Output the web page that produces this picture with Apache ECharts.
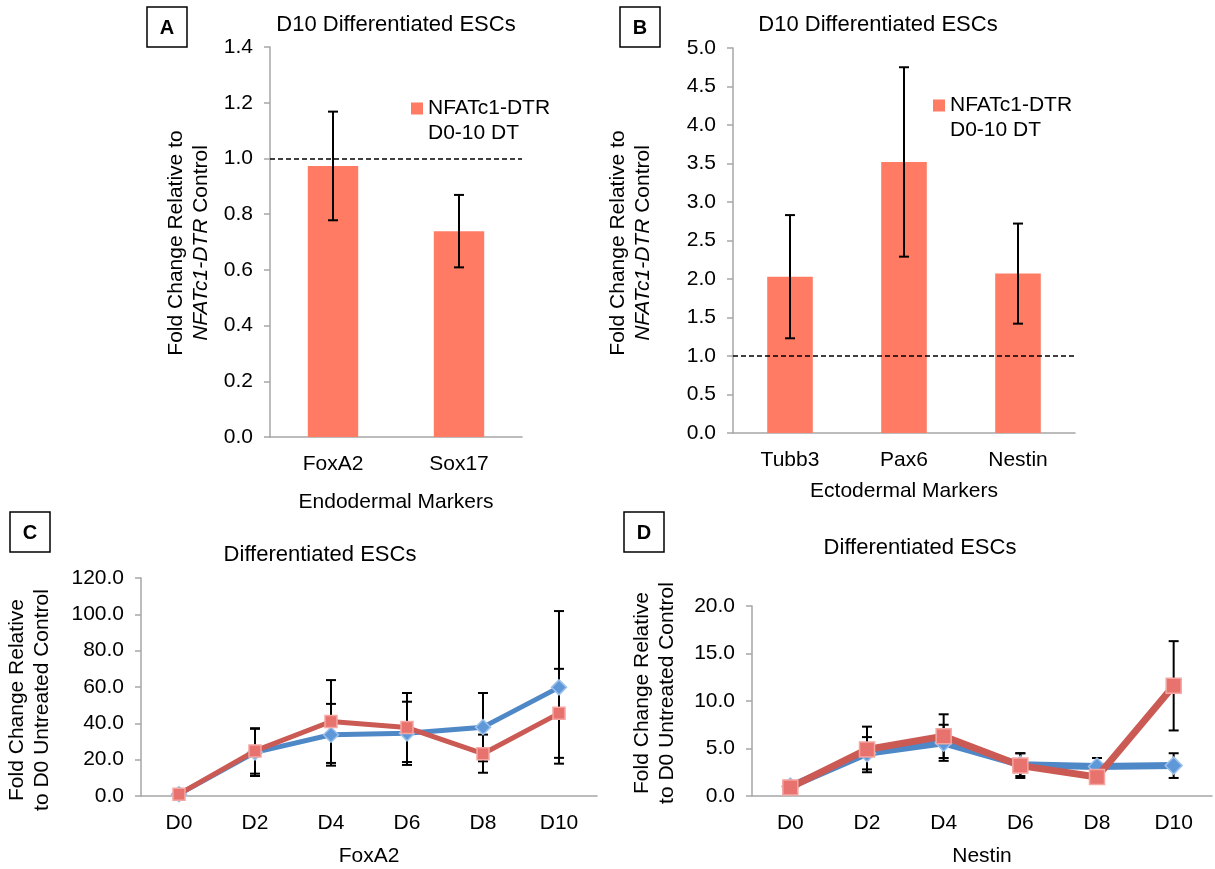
<!DOCTYPE html>
<html><head><meta charset="utf-8">
<script src="https://cdn.jsdelivr.net/npm/echarts@6/dist/echarts.min.js"></script>
<style>html,body{margin:0;padding:0;background:#fff}#c{width:1215px;height:869px}</style>
</head><body><div id="c"></div>
<script>
// ---- data ----
const endoCats = ['FoxA2', 'Sox17'];
const endoVals = [0.973, 0.739];
const endoErr = [0.195, 0.13];
const ectoCats = ['Tubb3', 'Pax6', 'Nestin'];
const ectoVals = [2.03, 3.52, 2.07];
const ectoErr = [0.80, 1.23, 0.65];
const days = ['D0', 'D2', 'D4', 'D6', 'D8', 'D10'];
const foxa2Blue = [1.0, 24.0, 33.7, 34.5, 37.9, 59.8];
const foxa2BlueErr = [0.3, 13.0, 17.0, 17.4, 18.8, 42.0];
const foxa2Red = [1.0, 24.8, 41.0, 37.7, 23.3, 45.5];
const foxa2RedErr = [0.3, 12.5, 22.8, 19.0, 10.5, 24.5];
const nestinBlue = [1.0, 4.5, 5.6, 3.3, 3.1, 3.2];
const nestinBlueErr = [0.1, 1.7, 1.9, 1.2, 0.9, 1.3];
const nestinRed = [0.9, 4.9, 6.3, 3.2, 2.0, 11.6];
const nestinRedErr = [0.1, 2.4, 2.3, 1.3, 0.3, 4.7];
const legendName = 'NFATc1-DTR\nD0-10 DT';

// ---- helpers ----
const FONT = "'Liberation Sans', Arial, sans-serif";
const FS = 21;
const AX = '#A6A6A6';
function errData(vals, errs) { return vals.map((v, i) => [i, v - errs[i], v + errs[i]]); }
function errRender(capHalf, lw) {
  return function (params, api) {
    const xi = api.value(0), lo = api.value(1), hi = api.value(2);
    const a = api.coord([xi, hi]), b = api.coord([xi, lo]);
    const st = { stroke: '#000', lineWidth: lw };
    return { type: 'group', children: [
      { type: 'line', shape: { x1: a[0], y1: a[1], x2: b[0], y2: b[1] }, style: st },
      { type: 'line', shape: { x1: a[0] - capHalf, y1: a[1], x2: a[0] + capHalf, y2: a[1] }, style: st },
      { type: 'line', shape: { x1: b[0] - capHalf, y1: b[1], x2: b[0] + capHalf, y2: b[1] }, style: st }
    ]};
  };
}
function yAx(idx, max, interval) {
  return { type: 'value', gridIndex: idx, min: 0, max: max, interval: interval,
    axisLine: { show: true, lineStyle: { color: AX, width: 1.5 } },
    axisTick: { show: true, length: 6, lineStyle: { color: AX, width: 1.5 } },
    splitLine: { show: false },
    axisLabel: { fontSize: FS, color: '#000', fontFamily: FONT, margin: 17, formatter: v => v.toFixed(1) } };
}
function xAx(idx, cats, name, gap) {
  return { type: 'category', gridIndex: idx, data: cats, name: name, nameLocation: 'middle', nameGap: gap,
    nameTextStyle: { fontSize: FS, color: '#000', fontFamily: FONT },
    axisLine: { show: true, lineStyle: { color: AX, width: 1.5 } },
    axisTick: { show: false },
    axisLabel: { fontSize: FS, color: '#000', fontFamily: FONT, margin: 17 } };
}
function legendCfg(left, top) {
  return { left: left, top: top, itemWidth: 12, itemHeight: 12, icon: 'rect', selectedMode: false,
    data: [legendName], padding: 0, formatter: n => ' \n' + n,
    textStyle: { fontSize: FS, color: '#000', fontFamily: FONT, lineHeight: 25 } };
}
function title(x, y, t) {
  return { type: 'text', x: x, y: y, style: { text: t, align: 'center', verticalAlign: 'middle', fontSize: 22, fontFamily: FONT, fill: '#000' } };
}
function box(x, y, letter) {
  return [
    { type: 'rect', shape: { x: x, y: y, width: 40, height: 40 }, style: { fill: 'none', stroke: '#000', lineWidth: 1.5 } },
    { type: 'text', x: x + 20, y: y + 21, style: { text: letter, align: 'center', verticalAlign: 'middle', fontSize: 20, fontWeight: 'bold', fontFamily: FONT, fill: '#000' } }
  ];
}
function yTitle(x, y, t, rich) {
  return { type: 'text', x: x, y: y, rotation: Math.PI / 2,
    style: { text: t, align: 'center', verticalAlign: 'middle', fontSize: FS, lineHeight: 25, fontFamily: FONT, fill: '#000',
      rich: rich || {} } };
}
const italRich = { i: { fontStyle: 'italic', fontSize: FS, fontFamily: FONT, fill: '#000', lineHeight: 25 } };

function lineSeries(idx, data, kind, big) {
  const blue = kind === 'blue';
  return { type: 'line', xAxisIndex: idx, yAxisIndex: idx, data: data, z: blue ? 3 : 4,
    symbol: blue ? 'diamond' : 'rect', symbolSize: blue ? (big ? 17 : 15) : (big ? 15 : 12),
    showSymbol: true, animation: false,
    lineStyle: { color: blue ? '#4F88C6' : '#CB5A54', width: big ? 7 : 5 },
    itemStyle: { color: blue ? '#5E98D8' : '#E8736E', borderColor: blue ? '#9CC0EA' : '#F4A6A2', borderWidth: 1.5 } };
}
function errSeries(idx, vals, errs) {
  return { type: 'custom', xAxisIndex: idx, yAxisIndex: idx, z: 2, renderItem: errRender(5, 2),
    data: errData(vals, errs), encode: { x: 0, y: [1, 2] }, animation: false, silent: true };
}

const option = {
  animation: false,
  textStyle: { fontFamily: FONT },
  grid: [
    { left: 270, top: 47, width: 252, height: 390 },
    { left: 733, top: 48, width: 342, height: 385 },
    { left: 141, top: 578, width: 456, height: 218 },
    { left: 752, top: 606, width: 460, height: 190 }
  ],
  xAxis: [
    xAx(0, endoCats, 'Endodermal Markers', 55),
    xAx(1, ectoCats, 'Ectodermal Markers', 48),
    xAx(2, days, 'FoxA2', 50),
    xAx(3, days, 'Nestin', 50)
  ],
  yAxis: [yAx(0, 1.4, 0.2), yAx(1, 5, 0.5), yAx(2, 120, 20), yAx(3, 20, 5)],
  legend: [legendCfg(411, 71), legendCfg(933, 68)],
  series: [
    { name: legendName, type: 'bar', xAxisIndex: 0, yAxisIndex: 0, data: endoVals, barWidth: '40%',
      itemStyle: { color: '#FF7B64' }, z: 2,
      markLine: { silent: true, symbol: 'none', label: { show: false },
        lineStyle: { color: '#000', type: [5, 3], width: 1.5 }, data: [{ yAxis: 1 }] } },
    { type: 'custom', xAxisIndex: 0, yAxisIndex: 0, z: 5, renderItem: errRender(5, 2),
      data: errData(endoVals, endoErr), encode: { x: 0, y: [1, 2] }, silent: true },
    { name: legendName, type: 'bar', xAxisIndex: 1, yAxisIndex: 1, data: ectoVals, barWidth: '40%',
      itemStyle: { color: '#FF7B64' }, z: 2,
      markLine: { silent: true, symbol: 'none', label: { show: false },
        lineStyle: { color: '#000', type: [5, 3], width: 1.5 }, data: [{ yAxis: 1 }] } },
    { type: 'custom', xAxisIndex: 1, yAxisIndex: 1, z: 5, renderItem: errRender(5, 2),
      data: errData(ectoVals, ectoErr), encode: { x: 0, y: [1, 2] }, silent: true },
    errSeries(2, foxa2Blue, foxa2BlueErr),
    errSeries(2, foxa2Red, foxa2RedErr),
    lineSeries(2, foxa2Blue, 'blue', false),
    lineSeries(2, foxa2Red, 'red', false),
    errSeries(3, nestinBlue, nestinBlueErr),
    errSeries(3, nestinRed, nestinRedErr),
    lineSeries(3, nestinBlue, 'blue', true),
    lineSeries(3, nestinRed, 'red', true)
  ],
  graphic: [
    title(396, 25, 'D10 Differentiated ESCs'),
    title(878, 25, 'D10 Differentiated ESCs'),
    title(320, 555, 'Differentiated ESCs'),
    title(920, 548, 'Differentiated ESCs'),
    ...box(147, 7, 'A'), ...box(620, 7, 'B'), ...box(10, 512, 'C'), ...box(624, 512, 'D'),
    yTitle(189, 243, 'Fold Change Relative to\n{i|NFATc1-DTR} Control', italRich),
    yTitle(631, 243, 'Fold Change Relative to\n{i|NFATc1-DTR} Control', italRich),
    yTitle(30, 700, 'Fold Change Relative\nto D0 Untreated Control'),
    yTitle(655, 693, 'Fold Change Relative\nto D0 Untreated Control')
  ]
};
const chart = echarts.init(document.getElementById('c'), null, { renderer: 'canvas' });
chart.setOption(option);
</script>
</body></html>
